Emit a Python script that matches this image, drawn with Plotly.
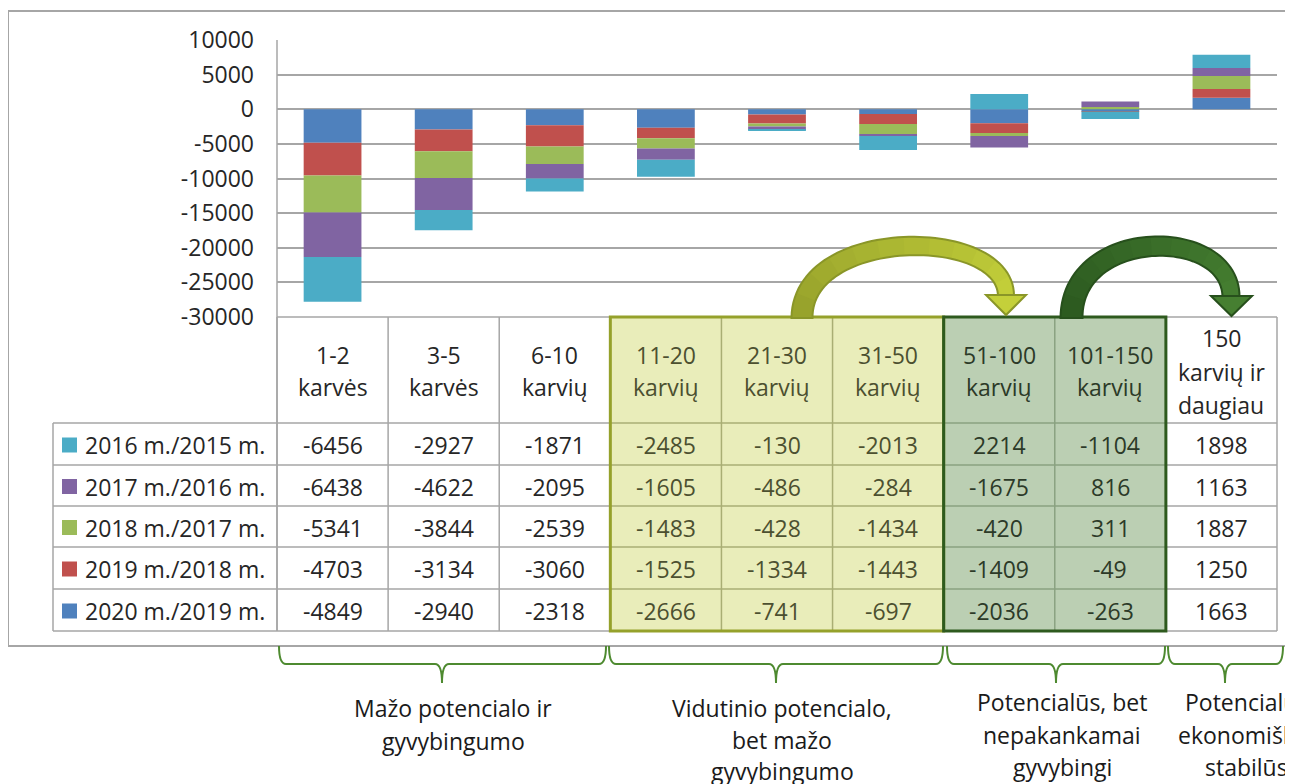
import plotly.graph_objects as go
import numpy as np

# ---------------- data ----------------
categories = ["1-2 karvės", "3-5 karvės", "6-10 karvių", "11-20 karvių", "21-30 karvių",
              "31-50 karvių", "51-100 karvių", "101-150 karvių", "150 karvių ir daugiau"]
header_lines = [["1-2", "karvės"], ["3-5", "karvės"], ["6-10", "karvių"], ["11-20", "karvių"],
                ["21-30", "karvių"], ["31-50", "karvių"], ["51-100", "karvių"], ["101-150", "karvių"],
                ["150", "karvių ir", "daugiau"]]

series_names = ["2016 m./2015 m.", "2017 m./2016 m.", "2018 m./2017 m.", "2019 m./2018 m.", "2020 m./2019 m."]
v2016 = [-6456, -2927, -1871, -2485, -130, -2013, 2214, -1104, 1898]
v2017 = [-6438, -4622, -2095, -1605, -486, -284, -1675, 816, 1163]
v2018 = [-5341, -3844, -2539, -1483, -428, -1434, -420, 311, 1887]
v2019 = [-4703, -3134, -3060, -1525, -1334, -1443, -1409, -49, 1250]
v2020 = [-4849, -2940, -2318, -2666, -741, -697, -2036, -263, 1663]
series_values = [v2016, v2017, v2018, v2019, v2020]
series_colors = ["#4BACC6", "#8064A2", "#9BBB59", "#C0504D", "#4F81BD"]

y_tick_vals = [10000, 5000, 0, -5000, -10000, -15000, -20000, -25000, -30000]
y_tick_text = ["10000", "5000", "0", "-5000", "-10000", "-15000", "-20000", "-25000", "-30000"]

group_labels = [
    ["Mažo potencialo ir", "gyvybingumo"],
    ["Vidutinio potencialo,", "bet mažo", "gyvybingumo"],
    ["Potencialūs, bet", "nepakankamai", "gyvybingi"],
    ["Potencialūs", "ekonomiškai", "stabilūs"],
]

# ---------------- geometry helpers ----------------
OFF = 8                      # page body margin: figure starts 8px in
W, H = 1293, 784
L, R, T, B = 277, 1277, 40, 317   # plot area in page pixels
FONT = "Open Sans"
TXT = "#262626"
FS = 23


def px(x):
    return (x - L) / (R - L)


def py(y):
    return (B - y) / (B - T)


def col_edge(k):
    return L + k * (R - L) / len(categories)


def path_str(points, close=True):
    s = "M " + " L ".join(f"{px(x):.5f},{py(y):.5f}" for x, y in points)
    return s + (" Z" if close else "")


fig = go.Figure()

# bars: stacking order from zero outward = 2020, 2019, 2018, 2017, 2016
for name, vals, col in reversed(list(zip(series_names, series_values, series_colors))):
    fig.add_trace(go.Bar(x=categories, y=vals, name=name, marker=dict(color=col, line=dict(width=0)),
                         width=0.52, showlegend=False))

shapes = []
ann = []


def line(x0, y0, x1, y1, color, width):
    shapes.append(dict(type="line", xref="paper", yref="paper", x0=px(x0), y0=py(y0), x1=px(x1), y1=py(y1),
                       line=dict(color=color, width=width), layer="above"))


# outer frame
shapes.append(dict(type="rect", xref="paper", yref="paper", x0=px(8), x1=px(1320), y0=py(11), y1=py(646),
                   line=dict(color="#A6A6A6", width=2), fillcolor="rgba(0,0,0,0)", layer="below"))

row_edges = [423, 465, 506, 547, 589, 631]
GRAY = "#A6A6A6"
line(L, T, L, row_edges[-1], GRAY, 1.5)
for k in range(len(categories) + 1):
    line(col_edge(k), B, col_edge(k), row_edges[-1], GRAY, 1.5)
line(53, row_edges[0], 53, row_edges[-1], GRAY, 1.5)
for ye in row_edges:
    line(53, ye, R, ye, GRAY, 1.5)
line(L, B, R, B, GRAY, 1.5)

# shaded regions
regions = [
    dict(c0=3, c1=6, fill="#E9EDBA", inner="#A9AE74", border="#95A12B", text="#4C5030"),
    dict(c0=6, c1=8, fill="#BBCFB3", inner="#8AA281", border="#2E5A1E", text="#2C3A28"),
]
col_text = [TXT] * len(categories)
for rg in regions:
    x0, x1 = col_edge(rg["c0"]), col_edge(rg["c1"])
    shapes.append(dict(type="rect", xref="paper", yref="paper", x0=px(x0), x1=px(x1), y0=py(B), y1=py(row_edges[-1]),
                       fillcolor=rg["fill"], line=dict(width=0), layer="above"))
    for k in range(rg["c0"] + 1, rg["c1"]):
        line(col_edge(k), B, col_edge(k), row_edges[-1], rg["inner"], 1.5)
    for ye in row_edges[:-1]:
        line(x0, ye, x1, ye, rg["inner"], 1.5)
    for c in range(rg["c0"], rg["c1"]):
        col_text[c] = rg["text"]
for rg in regions:
    x0, x1 = col_edge(rg["c0"]), col_edge(rg["c1"])
    shapes.append(dict(type="rect", xref="paper", yref="paper", x0=px(x0), x1=px(x1), y0=py(B), y1=py(row_edges[-1]),
                       fillcolor="rgba(0,0,0,0)", line=dict(color=rg["border"], width=3), layer="above"))

# header text
for i, lines in enumerate(header_lines):
    ys = [355, 387] if len(lines) == 2 else [338, 372, 405]
    for t, yy in zip(lines, ys):
        ann.append(dict(xref="x", yref="paper", x=i, y=py(yy), text=t, showarrow=False, xanchor="center",
                        font=dict(family=FONT, size=FS, color=col_text[i]), yanchor="middle"))

# table rows
for r, (name, vals, colr) in enumerate(zip(series_names, series_values, series_colors)):
    yc = (row_edges[r] + row_edges[r + 1]) / 2 + 1
    shapes.append(dict(type="rect", xref="paper", yref="paper", x0=px(62), x1=px(77), y0=py(yc - 7.5), y1=py(yc + 7.5),
                       fillcolor=colr, line=dict(width=0), layer="above"))
    ann.append(dict(xref="paper", yref="paper", x=px(83), y=py(yc), text=name, showarrow=False, xanchor="left",
                    yanchor="middle", font=dict(family=FONT, size=FS, color=TXT)))
    for i, v in enumerate(vals):
        ann.append(dict(xref="x", yref="paper", x=i, y=py(yc), text=str(v), showarrow=False, yanchor="middle",
                        xanchor="center", font=dict(family=FONT, size=FS, color=col_text[i])))


# curved arrows
def hex2rgb(h):
    h = h.lstrip("#")
    return np.array([int(h[i:i + 2], 16) for i in (0, 2, 4)], dtype=float)


def arrow(p0, p1, p2, p3, w0, w1, c_start, c_end, outline, head):
    P = [np.array(p, dtype=float) for p in (p0, p1, p2, p3)]
    ts = np.linspace(0, 1, 61)
    pts, nrm = [], []
    for t in ts:
        b = (1 - t) ** 3 * P[0] + 3 * (1 - t) ** 2 * t * P[1] + 3 * (1 - t) * t ** 2 * P[2] + t ** 3 * P[3]
        d = 3 * (1 - t) ** 2 * (P[1] - P[0]) + 6 * (1 - t) * t * (P[2] - P[1]) + 3 * t ** 2 * (P[3] - P[2])
        n = np.array([-d[1], d[0]]) / np.hypot(*d)
        pts.append(b)
        nrm.append(n)
    widths = w0 + (w1 - w0) * ts
    left = [p + n * w / 2 for p, n, w in zip(pts, nrm, widths)]
    right = [p - n * w / 2 for p, n, w in zip(pts, nrm, widths)]
    cs, ce = hex2rgb(c_start), hex2rgb(c_end)
    nch = 12
    step = (len(ts) - 1) // nch
    for j in range(nch):
        i0, i1 = j * step, min((j + 1) * step + 1, len(ts) - 1)
        poly = left[i0:i1 + 1] + right[i0:i1 + 1][::-1]
        f = (j + 0.5) / nch
        c = cs + (ce - cs) * f
        shapes.append(dict(type="path", xref="paper", yref="paper", path=path_str([tuple(p) for p in poly]),
                           fillcolor=f"rgb({int(c[0])},{int(c[1])},{int(c[2])})", line=dict(width=0), layer="above"))
    outline_poly = left + right[::-1]
    shapes.append(dict(type="path", xref="paper", yref="paper", path=path_str([tuple(p) for p in outline_poly]),
                       fillcolor="rgba(0,0,0,0)", line=dict(color=outline, width=2), layer="above"))
    shapes.append(dict(type="path", xref="paper", yref="paper", path=path_str(head),
                       fillcolor=c_end, line=dict(color=outline, width=2), layer="above"))


arrow((802, 318), (802, 226), (1006, 226), (1006, 296), 21, 16, "#97A22C", "#C4D03A", "#8A9628",
      [(986, 295), (1026, 295), (1006, 315)])
arrow((1071.5, 318), (1071.5, 226), (1231, 226), (1231, 297), 22, 17, "#2C5A20", "#467F31", "#27501C",
      [(1211, 296), (1252, 296), (1231.5, 316)])

# braces
BR = "#4E8A30"
braces = [(279, 606, 442), (609, 943, 776), (947, 1165, 1056), (1168, 1283, 1225)]
for xl, xr, xc in braces:
    y0, ym, yt = 646, 664, 683
    path = (f"M {px(xl)},{py(y0)} Q {px(xl)},{py(ym)} {px(xl + 7)},{py(ym)} L {px(xc - 7)},{py(ym)} "
            f"Q {px(xc)},{py(ym)} {px(xc)},{py(yt)} Q {px(xc)},{py(ym)} {px(xc + 7)},{py(ym)} "
            f"L {px(xr - 7)},{py(ym)} Q {px(xr)},{py(ym)} {px(xr)},{py(y0)}")
    shapes.append(dict(type="path", xref="paper", yref="paper", path=path, line=dict(color=BR, width=2),
                       fillcolor="rgba(0,0,0,0)", layer="above"))

# group labels
label_pos = [(453, [708, 741]), (782, [708, 740, 771]), (1062, [702, 735, 767]), (1246, [702, 735, 767])]
for lines, (xc, ys) in zip(group_labels, label_pos):
    for t, yy in zip(lines, ys):
        ann.append(dict(xref="paper", yref="paper", x=px(xc), y=py(yy), text=t, showarrow=False, yanchor="middle",
                        xanchor="center", font=dict(family=FONT, size=23, color="#1A1A1A")))

fig.update_layout(
    width=W, height=H, barmode="relative",
    margin=dict(l=L - OFF, r=W - (R - OFF), t=T - OFF, b=H - (B - OFF), pad=0),
    paper_bgcolor="white", plot_bgcolor="white",
    xaxis=dict(range=[-0.5, len(categories) - 0.5], showticklabels=False, showgrid=False, zeroline=False,
               showline=False, fixedrange=True),
    yaxis=dict(range=[-30000, 10000], tickvals=y_tick_vals, ticktext=y_tick_text, showgrid=True,
               gridcolor="#A6A6A6", gridwidth=1.5, zeroline=False, showline=False,
               tickfont=dict(family=FONT, size=FS, color=TXT), ticks="", ticklabelstandoff=22),
    shapes=shapes, annotations=ann, showlegend=False,
)

fig.write_html("out.html")
